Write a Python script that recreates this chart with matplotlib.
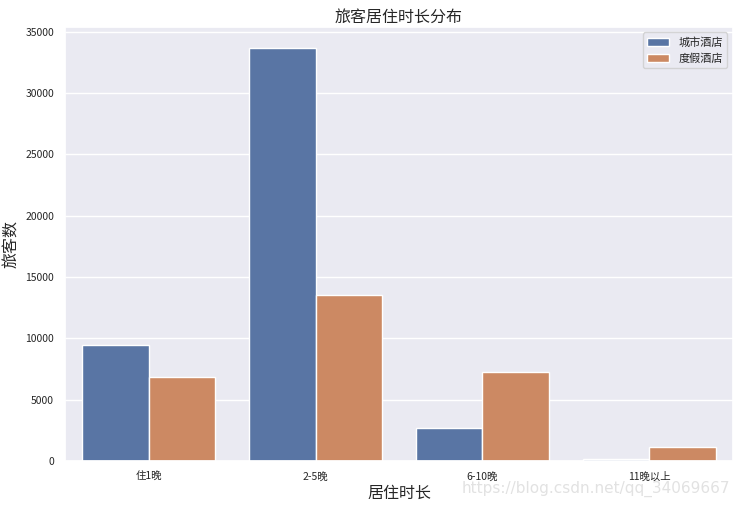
import numpy as np
import pandas as pd
import matplotlib
matplotlib.use('Agg')
import matplotlib.pyplot as plt
import seaborn as sns

# nights stayed
stay_labels = ['住1晚', '2-5晚', '6-10晚', '11晚以上']
city_hotel = [9440, 33720, 2720, 160]
resort_hotel = [6880, 13510, 7230, 1170]
hotel_names = ['城市酒店', '度假酒店']

df = pd.DataFrame({
    '居住时长': stay_labels * 2,
    '旅客数': city_hotel + resort_hotel,
    '酒店': [hotel_names[0]] * 4 + [hotel_names[1]] * 4,
})

sns.set_theme(style='darkgrid')
plt.rcParams['font.family'] = ['Noto Sans CJK SC', 'DejaVu Sans']
plt.rcParams['axes.unicode_minus'] = False

fig = plt.figure(figsize=(7.41, 5.07), dpi=100)
ax = fig.add_axes([0.088, 0.091, 0.901, 0.856])
sns.barplot(data=df, x='居住时长', y='旅客数', hue='酒店', ax=ax)

ax.set_title('旅客居住时长分布', fontsize=11.5, pad=4)
ax.set_xlabel('居住时长', fontsize=11.5, labelpad=2)
ax.set_ylabel('旅客数', fontsize=11.5, labelpad=4)
ax.tick_params(axis='both', labelsize=7.5, pad=2)
ax.legend(loc='upper right', fontsize=8, title=None)

fig.text(0.985, 0.035, 'https://blog.csdn.net/qq_34069667', ha='right', va='center',
         fontsize=11, color='#e2e2e2', family=['DejaVu Sans'])

fig.savefig('out.png', dpi=100)
